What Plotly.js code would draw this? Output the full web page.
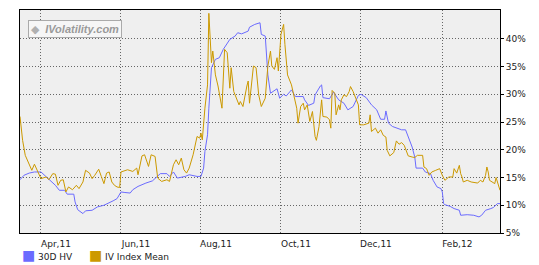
<!DOCTYPE html>
<html>
<head>
<meta charset="utf-8">
<script src="https://cdn.plot.ly/plotly-3.0.1.min.js"></script>
<style>
  html, body { margin: 0; padding: 0; background: #ffffff; }
  #chart { width: 539px; height: 265px; }
</style>
</head>
<body>
<div id="chart"></div>
<script>
// ---- Data ----
var hvDates = [
  '2011-03-16','2011-03-19','2011-03-23','2011-03-27','2011-04-01','2011-04-05','2011-04-08','2011-04-12',
  '2011-04-15','2011-04-19','2011-04-21','2011-04-26','2011-04-27','2011-04-29','2011-05-03','2011-05-05',
  '2011-05-10','2011-05-14','2011-05-19','2011-05-23','2011-05-26','2011-05-29','2011-06-01','2011-06-04',
  '2011-06-08','2011-06-10','2011-06-14','2011-06-20','2011-06-25','2011-07-01','2011-07-06','2011-07-08',
  '2011-07-11','2011-07-14','2011-07-20','2011-07-23','2011-07-29','2011-08-01','2011-08-03','2011-08-04',
  '2011-08-06','2011-08-07','2011-08-09','2011-08-12','2011-08-15','2011-08-18','2011-08-23','2011-08-27',
  '2011-08-29','2011-09-01','2011-09-06','2011-09-07','2011-09-11','2011-09-15','2011-09-16','2011-09-19',
  '2011-09-20','2011-09-21','2011-09-23','2011-09-25','2011-09-28','2011-09-30','2011-10-03','2011-10-05',
  '2011-10-09','2011-10-12','2011-10-18','2011-10-19','2011-10-22','2011-10-26','2011-10-27','2011-10-31',
  '2011-11-01','2011-11-02','2011-11-07','2011-11-10','2011-11-14','2011-11-18','2011-11-20','2011-11-21',
  '2011-11-25','2011-11-29','2011-12-01','2011-12-05','2011-12-09','2011-12-13','2011-12-16','2011-12-19',
  '2011-12-20','2011-12-22','2011-12-25','2011-12-28','2012-01-01','2012-01-04','2012-01-06','2012-01-09',
  '2012-01-11','2012-01-12','2012-01-17','2012-01-19','2012-01-23','2012-01-25','2012-01-28','2012-01-31',
  '2012-02-01','2012-02-02','2012-02-03','2012-02-07','2012-02-10','2012-02-14','2012-02-15','2012-02-20',
  '2012-02-25','2012-02-29','2012-03-02','2012-03-05','2012-03-09','2012-03-11','2012-03-14','2012-03-16'
];
var hvValues = [
  14.6,15.4,15.8,16.0,16.0,15.1,14.6,13.6,
  12.7,12.7,12.0,12.0,10.6,9.2,8.5,9.0,
  9.1,9.7,10.0,10.4,10.8,11.2,12.4,12.3,
  12.2,12.8,13.4,14.0,14.4,15.7,15.7,15.2,
  16.0,14.9,15.2,15.5,15.2,15.2,16.7,19.7,
  22.7,27.5,34.8,36.3,36.6,38.1,39.9,40.5,
  41.1,40.9,41.4,42.1,42.6,42.9,40.8,40.5,
  37.2,33.5,30.2,30.5,31.0,29.3,30.0,29.7,
  30.8,29.6,29.6,29.0,28.0,28.4,29.9,31.5,
  31.7,29.4,29.2,30.4,29.0,28.4,27.4,27.2,
  27.8,29.8,30.0,29.4,28.1,27.2,25.5,25.5,
  27.0,24.8,24.2,23.9,23.6,23.6,22.3,20.5,
  18.7,16.7,16.7,16.0,15.7,14.5,13.3,13.0,
  12.4,10.3,10.1,9.8,9.4,9.1,8.2,8.3,
  8.2,7.9,8.2,9.1,9.4,9.6,10.3,10.3
];

var ivDates = [
  '2011-03-16','2011-03-18','2011-03-20','2011-03-23','2011-03-25','2011-03-27','2011-03-30','2011-04-01',
  '2011-04-05','2011-04-07','2011-04-10','2011-04-12','2011-04-14','2011-04-16','2011-04-18','2011-04-20',
  '2011-04-22','2011-04-25','2011-04-28','2011-04-30','2011-05-03','2011-05-05','2011-05-08','2011-05-10',
  '2011-05-12','2011-05-15','2011-05-17','2011-05-19','2011-05-21','2011-05-23','2011-05-25','2011-05-27',
  '2011-05-29','2011-05-31','2011-06-01','2011-06-04','2011-06-06','2011-06-10','2011-06-13','2011-06-14',
  '2011-06-17','2011-06-19','2011-06-22','2011-06-24','2011-06-27','2011-06-29','2011-07-02','2011-07-06',
  '2011-07-08','2011-07-11','2011-07-13','2011-07-15','2011-07-17','2011-07-19','2011-07-21','2011-07-23',
  '2011-07-26','2011-07-29','2011-07-31','2011-08-01','2011-08-02','2011-08-04','2011-08-06','2011-08-07',
  '2011-08-08','2011-08-09','2011-08-10','2011-08-12','2011-08-14','2011-08-17','2011-08-19','2011-08-21',
  '2011-08-23','2011-08-24','2011-08-26','2011-08-28','2011-08-30','2011-08-31','2011-09-02','2011-09-05',
  '2011-09-06','2011-09-07','2011-09-10','2011-09-12','2011-09-14','2011-09-16','2011-09-19','2011-09-21',
  '2011-09-23','2011-09-24','2011-09-26','2011-09-28','2011-09-29','2011-10-01','2011-10-03','2011-10-04',
  '2011-10-06','2011-10-09','2011-10-11','2011-10-13','2011-10-14','2011-10-16','2011-10-18','2011-10-19',
  '2011-10-21','2011-10-23','2011-10-25','2011-10-27','2011-10-28','2011-10-30','2011-11-01','2011-11-02',
  '2011-11-05','2011-11-07','2011-11-08','2011-11-09','2011-11-11','2011-11-12','2011-11-14','2011-11-15',
  '2011-11-16','2011-11-18','2011-11-20','2011-11-22','2011-11-23','2011-11-25','2011-11-27','2011-11-29',
  '2011-11-30','2011-12-03','2011-12-07','2011-12-08','2011-12-09','2011-12-12','2011-12-14','2011-12-16',
  '2011-12-18','2011-12-20','2011-12-21','2011-12-23','2011-12-26','2011-12-28','2011-12-30','2012-01-01',
  '2012-01-03','2012-01-05','2012-01-06','2012-01-09','2012-01-11','2012-01-13','2012-01-17','2012-01-18',
  '2012-01-20','2012-01-22','2012-01-24','2012-01-27','2012-01-30','2012-02-01','2012-02-03','2012-02-06',
  '2012-02-09','2012-02-10','2012-02-12','2012-02-14','2012-02-15','2012-02-16','2012-02-17','2012-02-20',
  '2012-02-23','2012-02-28','2012-03-01','2012-03-03','2012-03-05','2012-03-06','2012-03-07','2012-03-08',
  '2012-03-10','2012-03-12','2012-03-13','2012-03-15','2012-03-16'
];
var ivValues = [
  26.0,21.7,19.0,17.5,16.3,17.4,16.0,14.8,
  15.1,14.6,15.7,15.6,13.6,14.5,14.6,12.4,
  13.3,12.8,13.6,13.0,14.2,16.3,15.8,14.8,
  15.4,16.5,15.2,13.9,15.8,16.0,14.2,13.6,
  13.3,13.2,16.0,16.2,16.4,16.1,16.7,15.5,
  18.9,19.1,17.0,19.1,18.8,14.9,14.3,14.6,
  14.3,17.3,18.2,17.3,18.5,16.4,15.8,16.7,
  19.1,22.4,22.1,23.0,21.8,27.5,31.7,44.6,
  40.2,35.7,37.8,33.5,31.5,27.5,38.1,37.5,
  31.1,34.8,30.5,29.3,28.1,28.7,27.8,31.5,
  32.4,28.4,35.1,34.8,29.9,27.8,29.3,35.1,
  37.8,35.1,34.5,36.6,34.2,40.8,42.6,39.0,
  33.5,31.7,29.6,27.5,24.8,27.8,28.4,27.2,
  28.1,25.1,26.9,22.4,21.7,24.2,29.0,26.0,
  25.9,25.4,23.9,30.7,30.2,26.3,28.1,27.2,
  29.0,29.9,29.6,30.5,31.4,30.5,29.3,28.1,
  24.5,24.5,24.8,26.3,23.3,23.9,23.0,23.6,
  22.6,22.3,19.9,18.9,19.5,21.6,21.0,21.3,
  20.8,19.6,18.9,18.7,18.6,19.0,19.0,16.9,
  16.6,15.4,16.0,16.3,16.6,15.4,14.5,15.1,
  15.1,16.6,15.8,17.2,15.7,15.1,14.2,14.5,
  14.2,14.0,14.5,14.2,15.4,16.9,16.0,14.5,
  14.2,13.9,15.0,13.3,12.7
];

var seriesNames = ['30D HV', 'IV Index Mean'];
var xTickVals = ['2011-04-01','2011-06-01','2011-08-01','2011-10-01','2011-12-01','2012-02-01'];
var xTickText = ['Apr,11','Jun,11','Aug,11','Oct,11','Dec,11','Feb,12'];
var yTickVals = [5, 10, 15, 20, 25, 30, 35, 40];
var yTickText = ['5%','10%','15%','20%','25%','30%','35%','40%'];

// ---- Styles ----
var blue = '#6b6bff';
var gold = '#cc9900';
var colors = [blue, gold];
var fontFam = 'DejaVu Sans, Verdana, sans-serif';
var legendX = [0.0, 0.1396];   // legend entry positions (paper fraction)

var traces = [
  { x: hvDates, y: hvValues, type: 'scatter', mode: 'lines', name: seriesNames[0],
    line: { color: colors[0], width: 1 }, showlegend: false, hoverinfo: 'skip' },
  { x: ivDates, y: ivValues, type: 'scatter', mode: 'lines', name: seriesNames[1],
    line: { color: colors[1], width: 1 }, showlegend: false, hoverinfo: 'skip' }
];

var annotations = [{
  xref: 'paper', yref: 'paper', x: 0.017, y: 0.957, xanchor: 'left', yanchor: 'top',
  text: '<span style="color:#b0b0b0">\u25C6</span>  <b><i>IVolatility.com</i></b>', showarrow: false,
  font: { family: 'Liberation Sans, Arial, sans-serif', size: 11, color: '#9a9a9a' },
  bgcolor: '#f6f6f6', bordercolor: '#aaaaaa', borderwidth: 1, borderpad: 2
}];
seriesNames.forEach(function (nm, i) {
  annotations.push({
    xref: 'paper', yref: 'paper', x: legendX[i], y: -0.099, xanchor: 'left', yanchor: 'middle',
    showarrow: false,
    text: '<span style="color:' + colors[i] + ';font-size:14px">\u25A0</span> ' + nm,
    font: { family: fontFam, size: 9, color: '#222' }
  });
});

var layout = {
  width: 539, height: 265,
  margin: { l: 20, r: 39, t: 10, b: 32, pad: 0, autoexpand: false },
  paper_bgcolor: '#ffffff',
  plot_bgcolor: '#efefef',
  font: { family: fontFam, size: 9, color: '#222' },
  showlegend: false,
  xaxis: {
    type: 'date',
    range: ['2011-03-16', '2012-03-16'],
    tickvals: xTickVals, ticktext: xTickText,
    ticks: '', ticklabelshift: 15, ticklabelstandoff: 2,
    showgrid: true, gridcolor: '#666', griddash: '1px,2px', gridwidth: 1,
    showline: true, linecolor: '#000', linewidth: 1, mirror: true,
    zeroline: false, tickfont: { family: fontFam, size: 9, color: '#222' }
  },
  yaxis: {
    side: 'right',
    range: [5, 45.2],
    tickvals: yTickVals, ticktext: yTickText,
    ticks: 'outside', ticklen: 3, tickcolor: '#000', tickwidth: 1,
    showgrid: true, gridcolor: '#666', griddash: '1px,2px', gridwidth: 1,
    showline: true, linecolor: '#000', linewidth: 1, mirror: true,
    zeroline: false, tickfont: { family: fontFam, size: 9, color: '#222' }
  },
  annotations: annotations
};

Plotly.newPlot('chart', traces, layout, { staticPlot: true, displayModeBar: false });
</script>
</body>
</html>
